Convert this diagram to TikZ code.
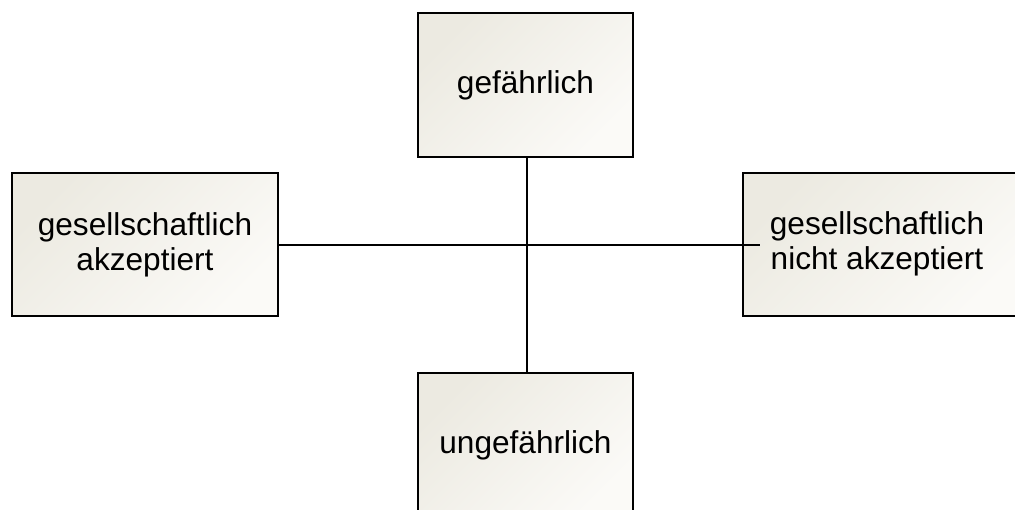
\documentclass[tikz,border=0pt]{standalone}
\usepackage{fontspec}
\setmainfont{Liberation Sans}
\definecolor{boxA}{HTML}{ECEAE1}
\definecolor{boxB}{HTML}{FBFAF7}
\begin{document}
\begin{tikzpicture}[x=1pt,y=-1pt,
  quad/.style={draw=black, line width=1.3pt, top color=boxA, bottom color=boxB, shading angle=45,
    rectangle, inner sep=0pt, align=center,
    font=\fontsize{31.6}{35}\selectfont},
  link/.style={draw=black, line width=1.3pt}]
\useasboundingbox (0,0) rectangle (1015,509);
\begin{scope}
\clip (0,0) rectangle (1015,509);
\node[quad, minimum width=215, minimum height=144] (top) at (525.5,85) {gefährlich};
\node[quad, minimum width=266, minimum height=143] (left) at (145,244.5) {gesellschaftlich\\akzeptiert};
\node[quad, minimum width=282, minimum height=143] (right) at (884,244.5)
  {\begin{tabular}{@{}c@{}}gesellschaftlich\\nicht akzeptiert\end{tabular}\hspace*{14pt}};
\node[quad, minimum width=215, minimum height=144] (bottom) at (525.5,445) {ungefährlich};
\coordinate (hend) at (760,245);
\draw[link] (left.east |- hend) -- (hend);
\draw[link] (top.south -| 527,0) -- (bottom.north -| 527,0);
\end{scope}
\end{tikzpicture}
\end{document}
